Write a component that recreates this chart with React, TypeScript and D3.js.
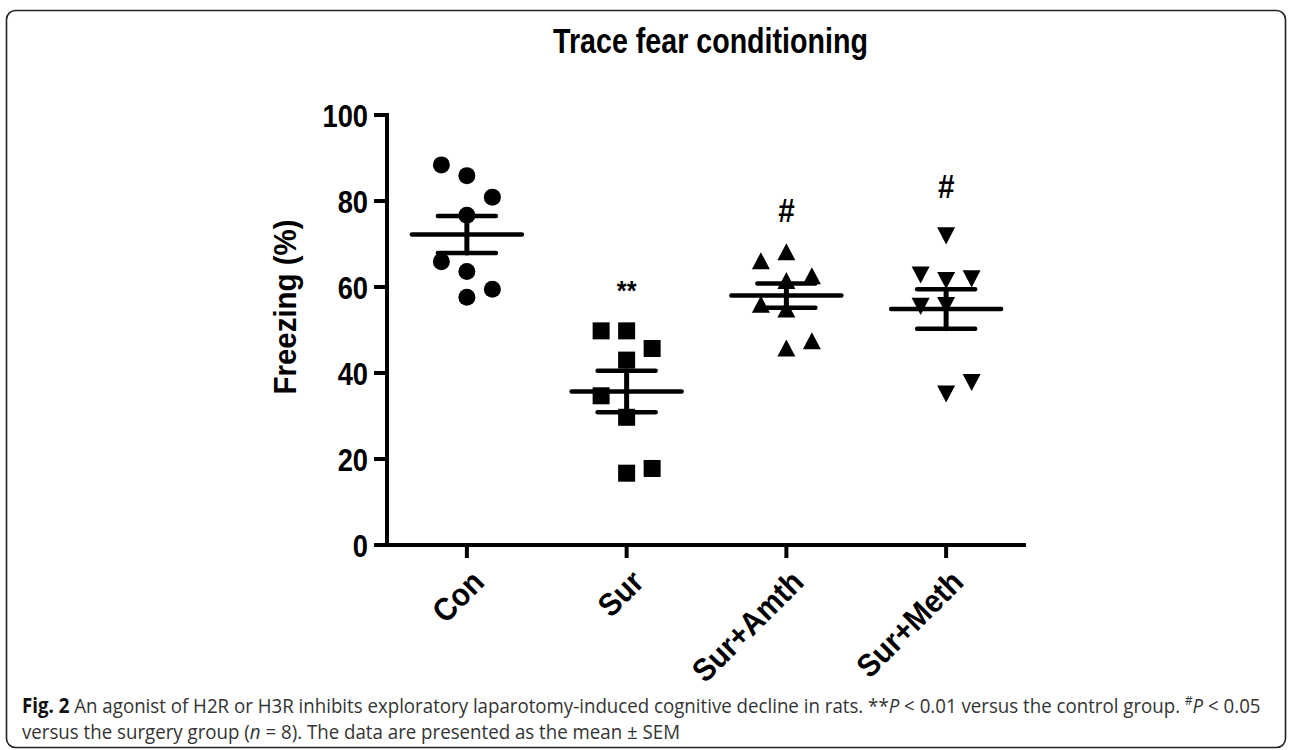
import React, { useLayoutEffect, useRef } from "react";
import * as d3 from "d3";

// ---------- data ----------
const categories = ["Con", "Sur", "Sur+Amth", "Sur+Meth"];
const conValues = [88.4, 85.9, 80.9, 76.7, 65.9, 63.6, 59.5, 57.6];
const conSlots = [-1, 0, 1, 0, -1, 0, 1, 0];
const surValues = [49.8, 49.8, 45.7, 43.0, 34.7, 29.7, 17.8, 16.7];
const surSlots = [-1, 0, 1, 0, -1, 0, 1, 0];
const amthValues = [68.2, 66.1, 62.6, 61.5, 56.0, 54.9, 47.5, 45.8];
const amthSlots = [0, -1, 1, 0, -1, 0, 1, 0];
const methValues = [71.9, 62.8, 61.9, 61.5, 55.7, 55.5, 37.8, 35.1];
const methSlots = [0, -1, 1, 0, 0, -1, 1, 0];
const groupMeans = [72.2, 35.7, 58.0, 54.9];
const groupSems = [4.3, 4.8, 2.8, 4.6];
const annotations = ["", "**", "#", "#"];
const annotationLevels = [0, 57, 75.1, 80.7];
const markerTypes = ["circle", "square", "triangleUp", "triangleDown"];
const yTicks = [0, 20, 40, 60, 80, 100];
const title = "Trace fear conditioning";
const yLabel = "Freezing (%)";

const groups = [
  { values: conValues, slots: conSlots },
  { values: surValues, slots: surSlots },
  { values: amthValues, slots: amthSlots },
  { values: methValues, slots: methSlots },
];

// ---------- layout ----------
const W = 1292;
const H = 750;
const axisX0 = 387;
const axisX1 = 1026;
const axisY0 = 545;
const axisYTop = 115;
const slotGap = 25.5;
const FONT = "'Liberation Sans', Arial, Helvetica, sans-serif";

const x = d3.scalePoint<string>().domain(categories).range([axisX0, axisX1]).padding(0.5);
const y = d3.scaleLinear().domain([0, 100]).range([axisY0, axisYTop]);

const triUp: d3.SymbolType = {
  draw(ctx, size) {
    const s = Math.sqrt(size);
    const h = s * 0.95;
    ctx.moveTo(0, -h / 2);
    ctx.lineTo(s / 2, h / 2);
    ctx.lineTo(-s / 2, h / 2);
    ctx.closePath();
  },
};
const triDown: d3.SymbolType = {
  draw(ctx, size) {
    const s = Math.sqrt(size);
    const h = s * 0.95;
    ctx.moveTo(0, h / 2);
    ctx.lineTo(s / 2, -h / 2);
    ctx.lineTo(-s / 2, -h / 2);
    ctx.closePath();
  },
};

function symbolPath(kind: string): string {
  if (kind === "circle") return d3.symbol(d3.symbolCircle, Math.PI * 8.5 * 8.5)() as string;
  if (kind === "square") return d3.symbol(d3.symbolSquare, 17 * 17)() as string;
  if (kind === "triangleUp") return d3.symbol(triUp, 18 * 18)() as string;
  return d3.symbol(triDown, 18 * 18)() as string;
}

export default function App() {
  const svgRef = useRef<SVGSVGElement>(null);

  useLayoutEffect(() => {
    const svg = d3.select(svgRef.current);
    svg.selectAll<SVGTextElement, unknown>("text[data-fit]").each(function () {
      const el = this;
      const target = +(el.getAttribute("data-fit") || 0);
      const w = el.getBBox().width;
      if (w > 0) {
        el.setAttribute("transform", `${el.getAttribute("data-base")} scale(${target / w},1)`);
      }
    });
    const cap = svg.select<SVGGElement>("g.caption");
    const line1 = cap.select<SVGTextElement>("text.l1").node();
    if (line1) {
      const w = line1.getBBox().width;
      const s = (1261 - 22) / w;
      cap.attr("transform", `translate(22,713) scale(${s},1)`);
    }
  }, []);

  const fitText = (
    txt: string,
    tx: number,
    ty: number,
    rot: number,
    width: number,
    size: number,
    anchor: string
  ) => {
    const base = `translate(${tx},${ty}) rotate(${rot})`;
    return (
      <text
        data-fit={width}
        data-base={base}
        transform={base}
        textAnchor={anchor}
        fontFamily={FONT}
        fontWeight="bold"
        fontSize={size}
        fill="#000"
      >
        {txt}
      </text>
    );
  };

  return (
    <svg
      ref={svgRef}
      width={W}
      height={H}
      style={{ position: "absolute", left: 0, top: 0, background: "#fff" }}
    >
      <rect x={6.5} y={10.5} width={1279} height={737} rx={9} fill="#fff" stroke="#222" strokeWidth={1.6} />

      {fitText(title, 553, 53, 0, 315, 35, "start")}

      {/* y axis */}
      <line x1={axisX0} x2={axisX0} y1={y(100)} y2={y(0)} stroke="#000" strokeWidth={4} strokeLinecap="square" />
      {yTicks.map((t) => (
        <g key={`yt${t}`}>
          <line x1={axisX0 - 13} x2={axisX0} y1={y(t)} y2={y(t)} stroke="#000" strokeWidth={4} />
          <text
            transform={`translate(${axisX0 - 19},${y(t) + 11.5}) scale(0.88,1)`}
            textAnchor="end"
            fontFamily={FONT}
            fontWeight="bold"
            fontSize={31}
          >
            {t}
          </text>
        </g>
      ))}
      {fitText(yLabel, 296, 307, -90, 175, 31, "middle")}

      {/* x axis */}
      <line x1={axisX0} x2={axisX1} y1={axisY0} y2={axisY0} stroke="#000" strokeWidth={4} />
      {categories.map((c) => (
        <g key={`xt${c}`}>
          <line x1={x(c)!} x2={x(c)!} y1={axisY0} y2={axisY0 + 13} stroke="#000" strokeWidth={4} />
          <text
            transform={`translate(${x(c)! + 19},${axisY0 + 39}) rotate(-45) scale(0.92,1)`}
            textAnchor="end"
            fontFamily={FONT}
            fontWeight="bold"
            fontSize={32}
          >
            {c}
          </text>
        </g>
      ))}

      {/* points */}
      {groups.map((g, gi) => {
        const path = symbolPath(markerTypes[gi]);
        const cx = x(categories[gi])!;
        return (
          <g key={`pts${gi}`}>
            {g.values.map((v, i) => (
              <path key={i} d={path} transform={`translate(${cx + g.slots[i] * slotGap},${y(v)})`} fill="#000" />
            ))}
          </g>
        );
      })}

      {/* mean ± SEM */}
      {categories.map((c, i) => {
        const cx = x(c)!;
        const m = groupMeans[i];
        const s = groupSems[i];
        return (
          <g key={`ms${c}`} stroke="#000" strokeLinecap="round">
            <line x1={cx - 55} x2={cx + 55} y1={y(m)} y2={y(m)} strokeWidth={4.5} />
            <line x1={cx} x2={cx} y1={y(m + s)} y2={y(m - s)} strokeWidth={5} />
            <line x1={cx - 29} x2={cx + 29} y1={y(m + s)} y2={y(m + s)} strokeWidth={4.5} />
            <line x1={cx - 29} x2={cx + 29} y1={y(m - s)} y2={y(m - s)} strokeWidth={4.5} />
          </g>
        );
      })}

      {/* significance marks */}
      {annotations.map((a, i) => {
        if (!a) return null;
        return (
          <text
            key={`an${i}`}
            transform={`translate(${x(categories[i])!},${y(annotationLevels[i])}) scale(0.9,1)`}
            textAnchor="middle"
            fontFamily={FONT}
            fontWeight="bold"
            fontSize={a === "**" ? 28 : 33}
          >
            {a}
          </text>
        );
      })}

      {/* caption */}
      <g className="caption" transform="translate(22,713)" fontFamily="'Open Sans', 'Noto Sans', sans-serif" fontSize={20.5} fill="#333">
        <text className="l1" x={0} y={0}>
          <tspan fontWeight="bold" fill="#111">Fig. 2</tspan>
          <tspan> An agonist of H2R or H3R inhibits exploratory laparotomy-induced cognitive decline in rats. **</tspan>
          <tspan fontStyle="italic">P</tspan>
          <tspan> &lt; 0.01 versus the control group. </tspan>
          <tspan fontSize={13} dy={-8}>#</tspan>
          <tspan fontStyle="italic" dy={8}>P</tspan>
          <tspan> &lt; 0.05</tspan>
        </text>
        <text className="l2" x={0} y={26}>
          <tspan>versus the surgery group (</tspan>
          <tspan fontStyle="italic">n</tspan>
          <tspan> = 8). The data are presented as the mean ± SEM</tspan>
        </text>
      </g>
    </svg>
  );
}
